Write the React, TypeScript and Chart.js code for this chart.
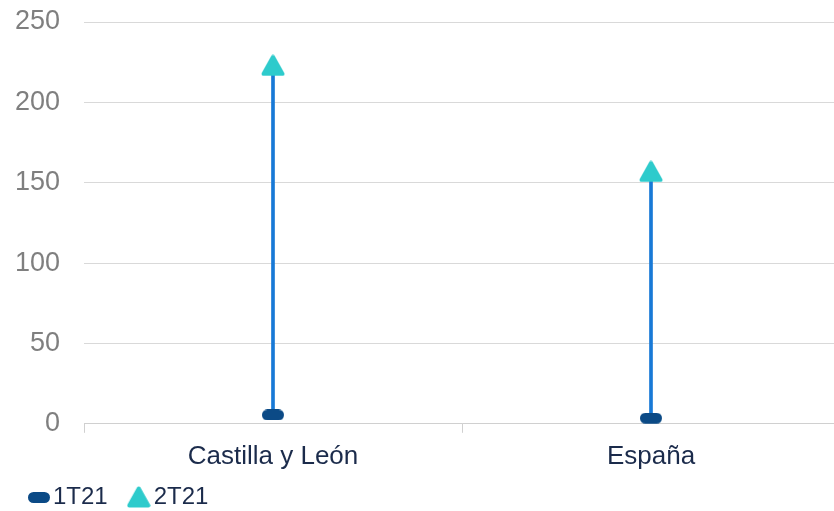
import React, { useEffect, useRef } from "react";
import { Chart, registerables } from "chart.js";

Chart.register(...registerables);

const categories = ["Castilla y León", "España"];
const seriesNames = ["1T21", "2T21"];
const series1T21 = [5.5, 3.5];
const series2T21 = [223, 157];
const yTicks = [0, 50, 100, 150, 200, 250];

function makeDash(): HTMLCanvasElement {
  const c = document.createElement("canvas");
  c.width = 22;
  c.height = 11;
  const ctx = c.getContext("2d")!;
  ctx.fillStyle = "#0b4a86";
  ctx.beginPath();
  (ctx as any).roundRect(0, 0, 22, 11, 5.5);
  ctx.fill();
  return c;
}

function makeTriangle(): HTMLCanvasElement {
  const c = document.createElement("canvas");
  c.width = 24;
  c.height = 22;
  const ctx = c.getContext("2d")!;
  ctx.fillStyle = "#2ecbcc";
  ctx.strokeStyle = "#2ecbcc";
  ctx.lineJoin = "round";
  ctx.lineWidth = 4;
  ctx.beginPath();
  ctx.moveTo(12, 2.5);
  ctx.lineTo(21.5, 19.5);
  ctx.lineTo(2.5, 19.5);
  ctx.closePath();
  ctx.fill();
  ctx.stroke();
  return c;
}

// Legend drawn beneath the x axis, items taken from the chart's own datasets
const bottomLegend = {
  id: "bottomLegend",
  afterDraw(chart: any) {
    const ctx = chart.ctx as CanvasRenderingContext2D;
    const y = chart.height - 14;
    let x = 28;
    ctx.save();
    ctx.font = "24px 'Liberation Sans'";
    ctx.fillStyle = "#1b2b4b";
    ctx.textBaseline = "middle";
    ctx.textAlign = "left";
    chart.data.datasets.forEach((ds: any) => {
      if (!seriesNames.includes(ds.label)) return;
      const img = ds.pointStyle as HTMLCanvasElement;
      ctx.drawImage(img, x, Math.round(y - img.height / 2));
      x += img.width + 3;
      ctx.fillText(ds.label, x, y);
      x += ctx.measureText(ds.label).width + 19;
    });
    ctx.restore();
  },
};

export default function App() {
  const ref = useRef<HTMLCanvasElement>(null);
  useEffect(() => {
    document.body.style.margin = "0";
    const dash = makeDash();
    const tri = makeTriangle();
    const chart = new Chart(ref.current!, {
      type: "bar",
      data: {
        labels: categories,
        datasets: [
          {
            type: "bar",
            label: "range",
            data: categories.map((_, i) => [series1T21[i], series2T21[i]]) as any,
            backgroundColor: "#1879d6",
            barThickness: 3,
            order: 10,
          } as any,
          {
            type: "line",
            label: seriesNames[0],
            data: series1T21,
            showLine: false,
            pointStyle: dash,
            pointRadius: 8,
            backgroundColor: "#0b4a86",
            borderColor: "#0b4a86",
            order: 1,
          },
          {
            type: "line",
            label: seriesNames[1],
            data: series2T21,
            showLine: false,
            pointStyle: tri,
            pointRadius: 10,
            backgroundColor: "#2ecbcc",
            borderColor: "#2ecbcc",
            order: 0,
          },
        ],
      },
      options: {
        animation: false,
        responsive: false,
        maintainAspectRatio: false,
        layout: { autoPadding: false, padding: { left: 9, top: 22, right: 0, bottom: 31 } },
        plugins: {
          tooltip: { enabled: false },
          legend: { display: false },
        },
        scales: {
          x: {
            offset: true,
            grid: {
              offset: true,
              drawOnChartArea: false,
              drawTicks: true,
              tickLength: 9,
              color: "#d0d0d0",
            },
            border: { display: true, color: "#d0d0d0" },
            ticks: {
              color: "#1b2b4b",
              font: { family: "Liberation Sans", size: 26 },
              padding: 8,
            },
          },
          y: {
            min: 0,
            max: 250,
            afterBuildTicks: (axis: any) => {
              axis.ticks = yTicks.map((v) => ({ value: v }));
            },
            afterFit: (axis: any) => {
              axis.width = 75;
            },
            grid: {
              color: "#d9d9d9",
              drawTicks: true,
              tickLength: 24,
              tickColor: "rgba(0,0,0,0)",
            },
            border: { display: false },
            ticks: {
              color: "#7f7f7f",
              font: { family: "Liberation Sans", size: 27 },
              padding: 0,
            },
          },
        },
      },
      plugins: [bottomLegend],
    });
    return () => chart.destroy();
  }, []);
  return (
    <div style={{ width: 834, height: 511, overflow: "hidden" }}>
      <canvas ref={ref} width={840} height={511} style={{ display: "block" }} />
    </div>
  );
}
